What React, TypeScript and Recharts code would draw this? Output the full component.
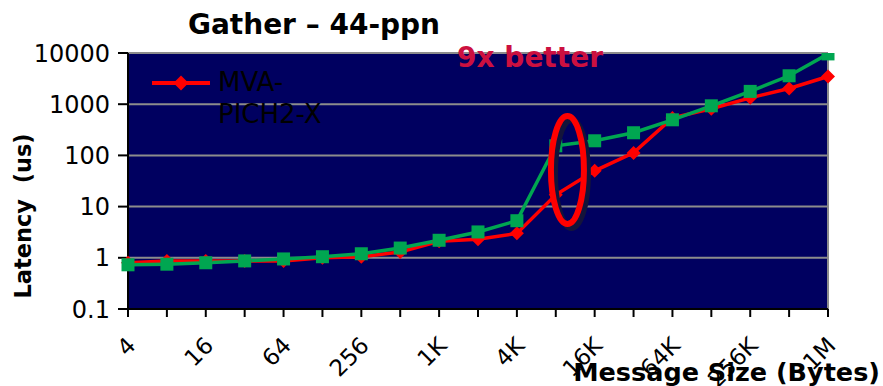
import { LineChart, Line, XAxis, YAxis, CartesianGrid, ReferenceDot, ReferenceLine } from 'recharts';

const sizes = ['4', '8', '16', '32', '64', '128', '256', '512', '1K', '2K', '4K', '8K', '16K', '32K', '64K', '128K', '256K', '512K', '1M'];
const mvapich = [0.8, 0.87, 0.87, 0.87, 0.87, 1.0, 1.05, 1.3, 2.1, 2.3, 3.0, 17, 50, 112, 540, 815, 1330, 2030, 3480];
const other = [0.73, 0.75, 0.8, 0.87, 0.95, 1.05, 1.2, 1.55, 2.2, 3.2, 5.3, 154, 193, 277, 496, 930, 1780, 3590, 9600];
const yTicks = [0.1, 1, 10, 100, 1000, 10000];

const data = sizes.map((s, i) => ({ i, size: s, mvapich: mvapich[i], other: other[i] }));

const FONT = 'DejaVu Sans, sans-serif';

const Diamond = (p: any) => {
  const { cx, cy, key } = p;
  if (cx == null || cy == null) return <g key={key} />;
  return <path key={key} d={`M${cx} ${cy - 7}L${cx + 7} ${cy}L${cx} ${cy + 7}L${cx - 7} ${cy}Z`} fill="#FF0000" />;
};

const Square = (p: any) => {
  const { cx, cy, key } = p;
  if (cx == null || cy == null) return <g key={key} />;
  return <rect key={key} x={cx - 6.5} y={cy - 6.5} width={13} height={13} fill="#00A651" />;
};

const XTick = (p: any) => {
  const { x, y, payload } = p;
  const idx = payload.value;
  if (idx % 2 !== 0) return <g />;
  return (
    <g transform={`translate(${x + 9},${y + 28})`}>
      <text transform="rotate(-45)" textAnchor="end" fontSize={23} fontFamily={FONT} fill="#000">
        {sizes[idx]}
      </text>
    </g>
  );
};

const Ellipse = (p: any) => {
  const { cx, cy } = p;
  return (
    <g>
      <ellipse cx={cx + 4} cy={cy + 4} rx={16.5} ry={54} fill="none" stroke="#14143a" strokeWidth={6} />
      <ellipse cx={cx} cy={cy} rx={16.5} ry={54} fill="none" stroke="#FF0000" strokeWidth={6} />
    </g>
  );
};

export default function App() {
  return (
    <div style={{ position: 'absolute', left: 0, top: 0, width: 883, height: 386, background: '#fff' }}>
      <LineChart width={883} height={386} data={data} margin={{ top: 53, right: 55, bottom: 0, left: 0 }}>
        <CartesianGrid fill="#000060" stroke="#8c8c8c" strokeWidth={2} vertical={false} />
        <XAxis
          dataKey="i"
          type="number"
          domain={[0, 18]}
          ticks={sizes.map((_, i) => i)}
          interval={0}
          height={77}
          tick={<XTick />}
          tickSize={8}
          axisLine={{ stroke: '#000', strokeWidth: 2 }}
          tickLine={{ stroke: '#000', strokeWidth: 2 }}
        />
        <YAxis
          scale="log"
          domain={[0.1, 10000]}
          ticks={yTicks}
          allowDataOverflow
          width={128}
          tickSize={10}
          tickMargin={8}
          tickFormatter={(v: number) => String(v)}
          tick={{ fontSize: 24, fontFamily: FONT, fill: '#000' }}
          axisLine={{ stroke: '#000', strokeWidth: 2 }}
          tickLine={{ stroke: '#000', strokeWidth: 2 }}
        />
        <ReferenceLine x={18} stroke="#8c8c8c" strokeWidth={2} />
        <Line dataKey="mvapich" stroke="#FF0000" strokeWidth={3.5} dot={Diamond} activeDot={false} isAnimationActive={false} />
        <Line dataKey="other" stroke="#00A651" strokeWidth={3.5} dot={Square} activeDot={false} isAnimationActive={false} />
        <ReferenceDot x={11.3} y={52} shape={Ellipse} />
      </LineChart>
      <div style={{ position: 'absolute', left: 150, top: 66, display: 'flex', fontFamily: FONT, fontSize: 26, lineHeight: '32px', color: '#000' }}>
        <svg width={64} height={32}>
          <line x1={2} y1={17} x2={60} y2={17} stroke="#FF0000" strokeWidth={4} />
          <path d="M31 9.5L38.5 17L31 24.5L23.5 17Z" fill="#FF0000" />
        </svg>
        <div style={{ marginLeft: 4 }}>MVA-<br />PICH2-X</div>
      </div>
      <svg width={883} height={386} style={{ position: 'absolute', left: 0, top: 0, pointerEvents: 'none' }}>
        <text x={314} y={34} textAnchor="middle" fontSize={28} fontWeight="bold" fontFamily={FONT}>Gather – 44-ppn</text>
        <text x={530} y={67} textAnchor="middle" fontSize={28} fontWeight="bold" fontFamily={FONT} fill="#CC1040">9x better</text>
        <text transform="translate(31,216) rotate(-90)" textAnchor="middle" fontSize={22.5} fontWeight="bold" fontFamily={FONT} xmlSpace="preserve">Latency  (us)</text>
        <text x={880} y={381} textAnchor="end" fontSize={25.5} fontWeight="bold" fontFamily={FONT}>Message Size (Bytes)</text>
      </svg>
    </div>
  );
}
